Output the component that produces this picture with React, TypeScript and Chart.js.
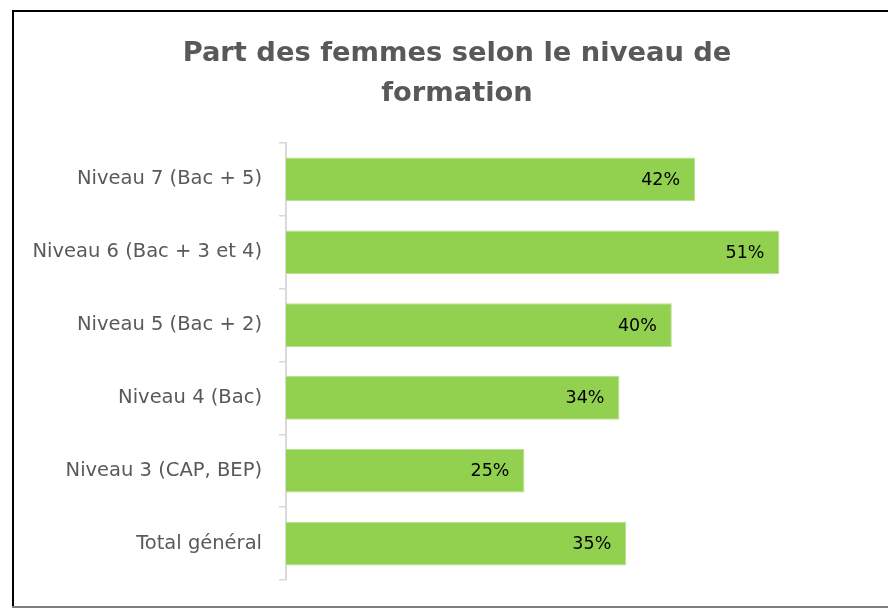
import React, { useEffect, useRef } from "react";
import { Chart, registerables } from "chart.js";

Chart.register(...registerables);

const titleLines = ["Part des femmes selon le niveau de", "formation"];
const categories = [
  "Niveau 7 (Bac + 5)",
  "Niveau 6 (Bac + 3 et 4)",
  "Niveau 5 (Bac + 2)",
  "Niveau 4 (Bac)",
  "Niveau 3 (CAP, BEP)",
  "Total général",
];
const shares = [42.2, 50.9, 39.8, 34.4, 24.6, 35.1];
const xMin = 0;
const xMax = 62.1;

const valueLabels = {
  id: "valueLabels",
  afterDatasetsDraw(chart: any) {
    const ctx = chart.ctx;
    const meta = chart.getDatasetMeta(0);
    const data = chart.data.datasets[0].data as number[];
    ctx.save();
    ctx.font = "17.5px 'DejaVu Sans'";
    ctx.fillStyle = "#000000";
    ctx.textAlign = "right";
    ctx.textBaseline = "middle";
    meta.data.forEach((bar: any, i: number) => {
      ctx.fillText(Math.round(data[i]) + "%", bar.x - 15, bar.y + 1);
    });
    ctx.restore();
  },
};

export default function App() {
  const ref = useRef<HTMLCanvasElement | null>(null);
  useEffect(() => {
    if (!ref.current) return;
    const chart = new Chart(ref.current, {
      type: "bar",
      data: {
        labels: categories,
        datasets: [
          {
            data: shares,
            backgroundColor: "#92D050",
            borderColor: "#B8E291",
            borderWidth: 1,
            borderSkipped: "start",
            barPercentage: 1,
            categoryPercentage: 0.6,
          },
        ],
      },
      options: {
        indexAxis: "y",
        responsive: false,
        animation: false,
        layout: { padding: { top: 14, left: 0, right: 0, bottom: 29 } },
        plugins: {
          legend: { display: false },
          tooltip: { enabled: false },
          title: {
            display: true,
            text: titleLines,
            color: "#595959",
            font: { family: "'DejaVu Sans'", size: 27.3, weight: "bold", lineHeight: 40 / 27.3 },
            padding: { top: 20, bottom: 29 },
          },
        },
        scales: {
          x: { display: false, min: xMin, max: xMax },
          y: {
            afterFit(scale: any) {
              scale.width = 260;
            },
            border: { display: true, color: "#d9d9d9", width: 2 },
            grid: {
              display: true,
              drawOnChartArea: false,
              drawTicks: true,
              tickLength: 7,
              color: "#d9d9d9",
              lineWidth: 1.5,
            },
            ticks: {
              color: "#595959",
              padding: 17,
              font: { family: "'DejaVu Sans'", size: 19.5 },
            },
          },
        },
      },
      plugins: [valueLabels],
    });
    return () => chart.destroy();
  }, []);
  return (
    <div style={{ position: "fixed", left: 0, top: 0, width: 888, height: 609, background: "#ffffff", overflow: "hidden" }}>
      <div style={{ position: "absolute", left: 12, top: 10, width: 876, height: 2, background: "#000000" }} />
      <div style={{ position: "absolute", left: 12, top: 10, width: 2, height: 598, background: "#000000" }} />
      <div style={{ position: "absolute", left: 12, top: 606, width: 876, height: 2, background: "#7f7f7f" }} />
      <canvas ref={ref} width={862} height={609} style={{ position: "absolute", left: 26, top: 0 }} />
    </div>
  );
}
